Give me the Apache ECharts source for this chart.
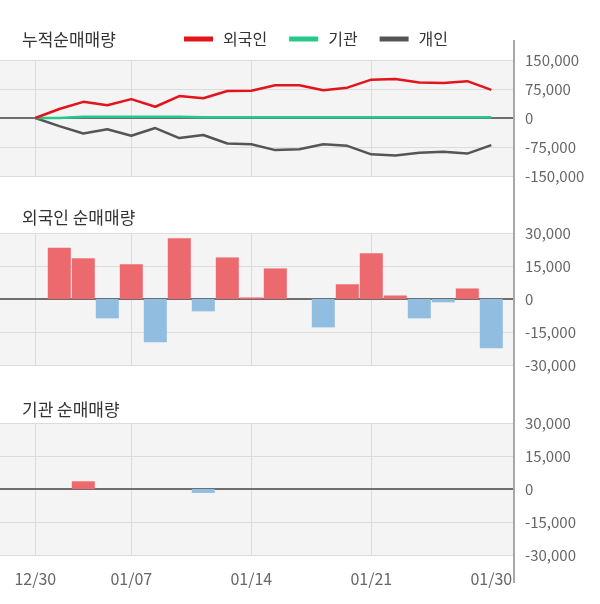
<!DOCTYPE html>
<html>
<head>
<meta charset="utf-8">
<script src="https://cdn.jsdelivr.net/npm/echarts@6/dist/echarts.min.js"></script>
<style>html,body{margin:0;padding:0;background:#fff}#c{width:600px;height:604px}</style>
</head>
<body>
<div id="c"></div>
<script>
var dates = ['12/30','01/02','01/03','01/06','01/07','01/08','01/09','01/10','01/13','01/14','01/15','01/16','01/17','01/20','01/21','01/22','01/23','01/28','01/29','01/30'];
var labelDates = ['12/30','01/07','01/14','01/21','01/30'];
var gridDates = ['12/30','01/07','01/14','01/21'];
var cumForeign = [0,23300,41800,33000,48800,29100,56700,51100,70000,70700,84600,84600,71700,78400,99200,100800,92000,90500,95300,72900];
var cumInst = [0,0,3500,3500,3500,3500,3500,1700,1700,1700,1700,1700,1700,1700,1700,1700,1700,1700,1700,1700];
var cumIndiv = [0,-21000,-40000,-29000,-46000,-26000,-52000,-44000,-66000,-68000,-83000,-81000,-68000,-72000,-94000,-97000,-90000,-87000,-92000,-70000];
var dailyForeign = [0,23300,18500,-8800,15800,-19700,27600,-5600,18900,700,13900,0,-12900,6700,20800,1600,-8800,-1500,4800,-22400];
var dailyInst = [0,0,3500,0,0,0,0,-1800,0,0,0,0,0,0,0,0,0,0,0,0];
var cumTicks = [-150000,-75000,0,75000,150000];
var dayTicks = [-30000,-15000,0,15000,30000];

var FONT = 'Noto Sans CJK KR';
var chart = echarts.init(document.getElementById('c'), null, {renderer:'canvas'});
var panels = [{top:60,height:116,min:cumTicks[0],max:cumTicks[4],interval:cumTicks[1]-cumTicks[0]},
              {top:233,height:132,min:dayTicks[0],max:dayTicks[4],interval:dayTicks[1]-dayTicks[0]},
              {top:423,height:132,min:dayTicks[0],max:dayTicks[4],interval:dayTicks[1]-dayTicks[0]}];
var grids=[], xAxes=[], yAxes=[];
panels.forEach(function(p,i){
  grids.push({left:0,width:514,top:p.top,height:p.height,show:true,backgroundColor:'#f4f4f4',borderWidth:0,z:0});
  grids.push({left:35.3,width:456,top:p.top,height:p.height,show:false});
  xAxes.push({gridIndex:2*i,type:'value',min:0,max:1,axisLine:{show:true,onZero:true,lineStyle:{color:'#6e6e6e',width:2}},axisTick:{show:false},axisLabel:{show:false},splitLine:{show:false}});
  xAxes.push({gridIndex:2*i+1,type:'category',data:dates,boundaryGap:false,
    axisLine:{show:false},axisTick:{show:false},
    axisLabel:{show:i===2,margin:16,color:'#666',fontSize:16,fontFamily:FONT,
      interval:function(idx,val){return labelDates.indexOf(val)>=0;}},
    splitLine:{show:true,lineStyle:{color:'#dcdcdc',width:1},
      interval:function(idx,val){return gridDates.indexOf(val)>=0;}}});
  yAxes.push({gridIndex:2*i,type:'value',position:'right',min:p.min,max:p.max,interval:p.interval,
    axisLine:{show:false},axisTick:{show:false},
    axisLabel:{margin:11,color:'#666',fontSize:15,fontFamily:FONT,formatter:function(v){return v.toLocaleString('en-US');}},
    splitLine:{show:true,lineStyle:{color:'#dcdcdc',width:1}}});
  yAxes.push({gridIndex:2*i+1,type:'value',min:p.min,max:p.max,interval:p.interval,show:false,splitLine:{show:false}});
});
function barColor(pr){return pr.value>=0?'#ec6a6e':'#90bde0';}
var titleStyle = {fontSize:17,fontWeight:'normal',color:'#333',fontFamily:FONT};
var option = {
  animation:false,
  textStyle:{fontFamily:FONT},
  title:[
    {text:'누적순매매량',left:17,top:26,textStyle:titleStyle},
    {text:'외국인 순매매량',left:17,top:204,textStyle:titleStyle},
    {text:'기관 순매매량',left:17,top:396,textStyle:titleStyle}
  ],
  legend:{left:179,top:26,icon:'rect',itemWidth:29,itemHeight:5,itemGap:22,
    textStyle:{fontSize:16,color:'#333',fontFamily:FONT,padding:[0,0,0,5]},
    data:['외국인','기관','개인']},
  grid:grids, xAxis:xAxes, yAxis:yAxes,
  graphic:[{type:'line',shape:{x1:514,y1:40,x2:514,y2:583},style:{stroke:'#a8a8a8',lineWidth:2},z:10}],
  series:[
    {name:'외국인',type:'line',xAxisIndex:1,yAxisIndex:1,data:cumForeign,symbol:'none',lineStyle:{color:'#e3141b',width:2.5},itemStyle:{color:'#e3141b'},z:5},
    {name:'기관',type:'line',xAxisIndex:1,yAxisIndex:1,data:cumInst,symbol:'none',lineStyle:{color:'#27c98b',width:2.5},itemStyle:{color:'#27c98b'},z:4},
    {name:'개인',type:'line',xAxisIndex:1,yAxisIndex:1,data:cumIndiv,symbol:'none',lineStyle:{color:'#555555',width:2.5},itemStyle:{color:'#555555'},z:3},
    {type:'bar',xAxisIndex:3,yAxisIndex:3,data:dailyForeign,barWidth:23,itemStyle:{color:barColor}},
    {type:'bar',xAxisIndex:5,yAxisIndex:5,data:dailyInst,barWidth:23,itemStyle:{color:barColor}}
  ]
};
chart.setOption(option);
</script>
</body>
</html>
